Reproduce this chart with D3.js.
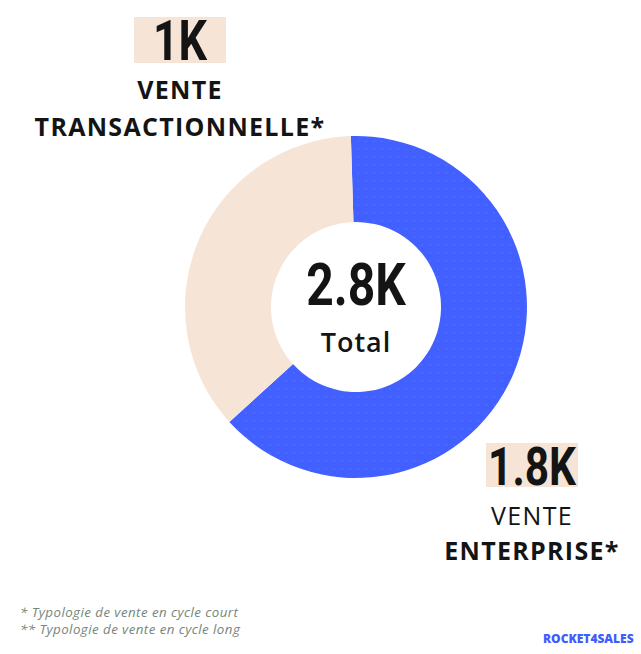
<!DOCTYPE html>
<html lang="fr">
  <head>
    <meta charset="UTF-8" />
    <title>Typologie de vente</title>
    <script src="https://d3js.org/d3.v7.min.js"></script>
    <style>
      html, body { margin: 0; padding: 0; background: #fff; }
      .num { font-family: Roboto, "DejaVu Sans", sans-serif; font-weight: 700; fill: #141414; }
      .lbl { font-family: "Open Sans", Lato, sans-serif; fill: #141414; }
      .note { font-family: "Open Sans", sans-serif; font-style: italic; font-size: 13.3px; letter-spacing: 0.45px; fill: #75857c; }
      .brand { font-family: "Open Sans", sans-serif; font-weight: 800; font-size: 12px; fill: #3f5cff; }
    </style>
  </head>
  <body>
    <div id="chart"></div>
    <script>
      // values
      const categories = ["VENTE ENTERPRISE*", "VENTE TRANSACTIONNELLE*"];
      const values = [1785, 1015];
      const colors = ["#4260ff", "#f6e5d6"];
      const notes = ["* Typologie de vente en cycle court", "** Typologie de vente en cycle long"];

      const width = 641, height = 654;
      const cx = 356, cy = 307, outer = 171, inner = 85;
      const fmt = (v) => d3.format(".2~s")(v).toUpperCase();

      const svg = d3.select("#chart").append("svg")
        .attr("width", width).attr("height", height);

      // faint dot texture on the blue slice
      const pat = svg.append("defs").append("pattern")
        .attr("id", "dots").attr("width", 8).attr("height", 8)
        .attr("patternUnits", "userSpaceOnUse");
      pat.append("rect").attr("width", 8).attr("height", 8).attr("fill", colors[0]);
      pat.append("circle").attr("cx", 2).attr("cy", 2).attr("r", 0.6).attr("fill", "#6f86ff");

      const pie = d3.pie().sort(null).startAngle(-0.03).endAngle(2 * Math.PI - 0.03);
      const arc = d3.arc().innerRadius(inner).outerRadius(outer);

      svg.append("g")
        .attr("transform", `translate(${cx},${cy})`)
        .selectAll("path")
        .data(pie(values))
        .join("path")
        .attr("d", arc)
        .attr("fill", (d, i) => i === 0 ? "url(#dots)" : colors[i]);

      // condensed bold numbers (no narrow font installed, so squeeze horizontally)
      const squeeze = 0.8;
      function bigNumber(x, y, size, str) {
        return svg.append("text").attr("class", "num")
          .attr("transform", `translate(${x},${y}) scale(${squeeze},1)`)
          .attr("text-anchor", "middle")
          .attr("font-size", size).text(str);
      }

      // centre total
      const total = d3.sum(values);
      bigNumber(cx, 305, 60, fmt(total));
      svg.append("text").attr("class", "lbl")
        .attr("x", cx).attr("y", 352).attr("text-anchor", "middle")
        .attr("font-size", 27).attr("font-weight", 600)
        .attr("letter-spacing", 1).text("Total");

      // slice annotations, each number on a fixed-width highlight box
      const boxW = 92;
      const annots = [
        { i: 1, x: 180, numY: 60, size: 56, boxTop: 17, boxH: 46, lines: [["VENTE", 99, 700], ["TRANSACTIONNELLE*", 136, 700]] },
        { i: 0, x: 532, numY: 485, size: 53, boxTop: 443, boxH: 44, lines: [["VENTE", 525, 500], ["ENTERPRISE*", 560, 700]] }
      ];
      annots.forEach((a) => {
        svg.append("rect")
          .attr("x", a.x - boxW / 2).attr("width", boxW)
          .attr("y", a.boxTop).attr("height", a.boxH)
          .attr("fill", colors[1]);
        bigNumber(a.x, a.numY, a.size, fmt(values[a.i]));
        a.lines.forEach(([s, y, wt]) => {
          svg.append("text").attr("class", "lbl")
            .attr("x", a.x).attr("y", y).attr("text-anchor", "middle")
            .attr("font-size", 25).attr("font-weight", wt)
            .attr("letter-spacing", 1.3).text(s);
        });
      });

      svg.selectAll(".note").data(notes).join("text")
        .attr("class", "note")
        .attr("x", 20).attr("y", (d, i) => 617 + i * 17)
        .text((d) => d);

      svg.append("text").attr("class", "brand")
        .attr("x", 543).attr("y", 643).text("ROCKET4SALES");
    </script>
  </body>
</html>
